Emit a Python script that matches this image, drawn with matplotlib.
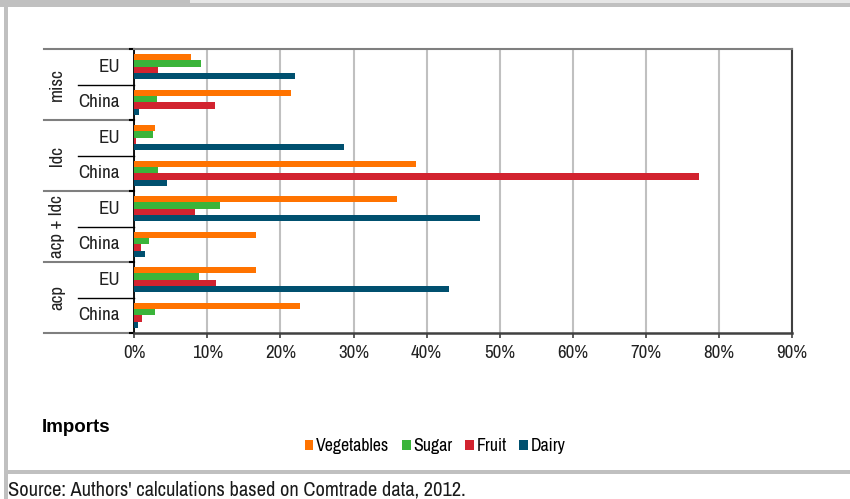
import matplotlib
matplotlib.use("Agg")
import matplotlib.pyplot as plt
from matplotlib import font_manager as fm
from matplotlib.patches import Rectangle, Patch
from matplotlib.lines import Line2D
from matplotlib.transforms import blended_transform_factory
from matplotlib.ticker import FuncFormatter, FixedLocator

# ---- pick a condensed font if one is installed ----
narrow = None
for f in fm.fontManager.ttflist:
    if "Narrow" in f.name or "Condensed" in f.name:
        narrow = (f.name, "normal")
        break
if narrow is None:
    for f in fm.fontManager.ttflist:
        if f.name == "DejaVu Sans" and str(f.stretch) in ("condensed", "semi-condensed"):
            narrow = ("DejaVu Sans", "condensed")
            break
if narrow is not None:
    plt.rcParams['font.family'] = [narrow[0], 'DejaVu Sans']
    plt.rcParams['font.stretch'] = narrow[1]
    K = 1.09 if narrow[1] == "normal" else 0.9
else:
    plt.rcParams['font.family'] = ['Liberation Sans', 'DejaVu Sans']
    K = 0.85

# ---- data (top to bottom) ----
groups = ["misc", "ldc", "acp + ldc", "acp"]
partners = ["EU", "China"]
series = ["Vegetables", "Sugar", "Fruit", "Dairy"]
colors = ["#FF7300", "#3AB43A", "#D2232F", "#00506F"]

# rows: misc EU, misc China, ldc EU, ldc China, acp+ldc EU, acp+ldc China, acp EU, acp China
vegetables = [7.8, 21.4, 2.9, 38.5, 36.0, 16.7, 16.7, 22.7]
sugar      = [9.1, 3.1, 2.6, 3.2, 11.7, 2.0, 8.9, 2.9]
fruit      = [3.3, 11.0, 0.3, 77.3, 8.3, 0.9, 11.2, 1.0]
dairy      = [22.0, 0.6, 28.7, 4.5, 47.3, 1.5, 43.0, 0.5]
values = [vegetables, sugar, fruit, dairy]

xticks = [0, 10, 20, 30, 40, 50, 60, 70, 80, 90]

W, H = 850, 499
fig = plt.figure(figsize=(W / 100, H / 100), dpi=100)

# overlay axes in pixel coordinates for frame & texts
ov = fig.add_axes([0, 0, 1, 1], zorder=-1)
ov.set_xlim(0, W)
ov.set_ylim(H, 0)
ov.axis("off")
ov.patch.set_alpha(0)
ov.add_patch(Rectangle((0, 0), 190, 6.5, color="#c0c0c0", lw=0))
ov.add_patch(Rectangle((190, 0), W - 190, 3, color="#e6e6e6", lw=0))
ov.add_patch(Rectangle((190, 3), W - 190, 3.5, color="#c0c0c0", lw=0))
ov.add_patch(Rectangle((4, 0), 4, H, color="#c0c0c0", lw=0))
ov.add_patch(Rectangle((4, 470), W - 4, 4, color="#c0c0c0", lw=0))

ov.text(42, 428, "Imports", fontsize=13.5, fontweight="bold", ha="left", va="center",
        family=['Liberation Sans', 'DejaVu Sans'], stretch="normal", color="black")
ov.text(8, 490, "Source: Authors' calculations based on Comtrade data, 2012.",
        fontsize=13.5 * K, ha="left", va="center", color="#1a1a1a")

# main axes
x0, x1, y0, y1 = 134.3, 792, 49, 333
ax = fig.add_axes([x0 / W, 1 - y1 / H, (x1 - x0) / W, (y1 - y0) / H])

n_rows = len(vegetables)
bh = 0.178
centers = [n_rows - 0.5 - i for i in range(n_rows)]
for s, (name, vals, col) in enumerate(zip(series, values, colors)):
    off = (1.5 - s) * bh
    ax.barh([c + off for c in centers], vals, height=bh, color=col,
            edgecolor="none", label=name, zorder=3)

ax.set_xlim(0, 90)
ax.set_ylim(0, n_rows)
ax.xaxis.set_major_locator(FixedLocator(xticks))
ax.xaxis.set_major_formatter(FuncFormatter(lambda v, p: f"{v:.0f}%"))
ax.set_yticks([])
ax.grid(axis="x", color="#c0c0c0", lw=1.5, zorder=0)
ax.set_axisbelow(True)

ax.spines["top"].set_color("#7f7f7f")
ax.spines["top"].set_linewidth(1.5)
ax.spines["right"].set_color("#404040")
ax.spines["right"].set_linewidth(1.5)
ax.spines["bottom"].set_color("#404040")
ax.spines["bottom"].set_linewidth(1.8)
ax.spines["left"].set_color("black")
ax.spines["left"].set_linewidth(1.3)
ax.tick_params(axis="x", direction="out", length=3.5, width=1.2, color="#404040",
               labelsize=12.5 * K, pad=5, labelcolor="#222222")

# category labels and separators
tr = blended_transform_factory(ax.transAxes, ax.transData)
ax_w = x1 - x0
def ax_x(px):
    return (px - x0) / ax_w

for g in range(len(groups) + 1):
    yv = g * 2
    ax.add_line(Line2D([ax_x(44), ax_x(134)], [yv, yv], transform=tr, color="#7f7f7f",
                       lw=1.5, clip_on=False))
    ax.add_line(Line2D([ax_x(130), ax_x(134.3)], [yv, yv], transform=tr, color="black",
                       lw=1.5, clip_on=False))
for g in range(len(groups)):
    yv = g * 2 + 1
    ax.add_line(Line2D([ax_x(78), ax_x(134.3)], [yv, yv], transform=tr, color="black",
                       lw=1.0, clip_on=False))

for i, c in enumerate(centers):
    ax.text(ax_x(120), c, partners[i % 2], transform=tr, ha="right", va="center",
            fontsize=12.5 * K, color="#222222")
for g, name in enumerate(groups):
    yc = n_rows - 1 - 2 * g
    ax.text(ax_x(57), yc, name, transform=tr, ha="center", va="center",
            rotation=90, fontsize=12.5 * K, color="#222222")

handles = [Patch(facecolor=c, edgecolor="none", label=s) for s, c in zip(series, colors)]
fig.legend(handles=handles, loc="center", bbox_to_anchor=(435 / W, 1 - 446 / H),
           ncol=4, frameon=False, fontsize=12.8, handlelength=0.5, handleheight=0.5,
           handletextpad=0.15, columnspacing=0.7, borderpad=0)

fig.savefig("out.png", dpi=100)
